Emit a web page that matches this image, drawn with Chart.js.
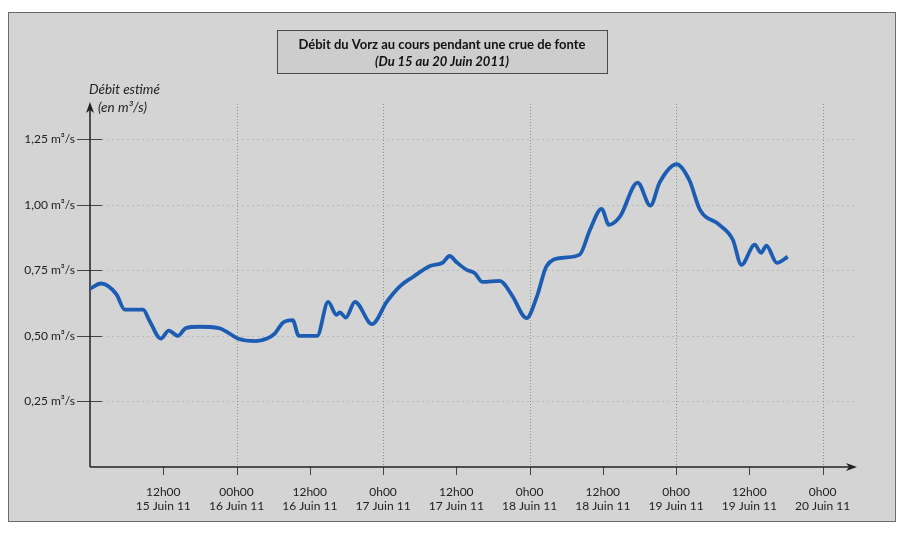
<!DOCTYPE html>
<html>
<head>
<meta charset="utf-8">
<script src="https://cdn.jsdelivr.net/npm/chart.js@4"></script>
<style>
  body { margin: 0; background: #ffffff; }
  #wrap { width: 902px; height: 534px; }
</style>
</head>
<body>
<div id="wrap"><canvas id="debit" width="902" height="534"></canvas></div>
<script>
// hours since 15 Juin 2011 0h00
const hours = [0, 1.8, 4.3, 5.7, 8.7, 9.7, 11.6, 12.9, 14.4, 15.7, 17.8, 21.1, 22.8, 24.2,
  27.2, 29.0, 30.3, 31.6, 33.2, 34.2, 37.2, 39.0, 40.4, 40.9, 41.9, 43.4, 46.2, 48.6,
  50.8, 52.9, 55.7, 57.8, 58.9, 60.1, 61.7, 63.0, 64.3, 67.1, 69.1, 71.5, 73.2, 74.8,
  77.4, 80.2, 81.9, 83.8, 85.0, 86.8, 89.7, 91.8, 93.3, 96.1, 98.2, 99.9, 103.1, 105.3,
  106.7, 108.9, 109.9, 110.8, 112.5, 114.3];
// débit estimé en m3/s
const debit = [0.68, 0.70, 0.66, 0.60, 0.60, 0.56, 0.49, 0.52, 0.50, 0.53, 0.535, 0.53, 0.51, 0.49,
  0.48, 0.49, 0.51, 0.55, 0.56, 0.50, 0.50, 0.63, 0.58, 0.59, 0.57, 0.63, 0.545, 0.63,
  0.69, 0.725, 0.767, 0.78, 0.805, 0.78, 0.752, 0.74, 0.706, 0.71, 0.656, 0.568, 0.65, 0.767,
  0.798, 0.81, 0.905, 0.985, 0.924, 0.955, 1.085, 0.997, 1.085, 1.155, 1.093, 0.982, 0.924, 0.867,
  0.771, 0.848, 0.817, 0.844, 0.779, 0.802];
const yTicks = [0.25, 0.5, 0.75, 1.0, 1.25];
const xTickHours = [12, 24, 36, 48, 60, 72, 84, 96, 108, 120];
const xTickLabels = [
  ['12h00', '15 Juin 11'], ['00h00', '16 Juin 11'], ['12h00', '16 Juin 11'],
  ['0h00', '17 Juin 11'], ['12h00', '17 Juin 11'], ['0h00', '18 Juin 11'],
  ['12h00', '18 Juin 11'], ['0h00', '19 Juin 11'], ['12h00', '19 Juin 11'],
  ['0h00', '20 Juin 11']
];

const FONT = 'Lato';
const INK = '#222222';

function fmtY(v) {
  return v.toFixed(2).replace('.', ',') + ' m³/s';
}

const decor = {
  id: 'decor',
  beforeDraw(chart) {
    const c = chart.ctx;
    c.save();
    c.fillStyle = '#ffffff';
    c.fillRect(0, 0, chart.width, chart.height);
    c.fillStyle = '#d4d4d4';
    c.fillRect(8, 12, 888, 510);
    c.strokeStyle = '#6a6a6a';
    c.lineWidth = 1;
    c.strokeRect(8.5, 12.5, 887, 509);
    c.restore();
  },
  beforeDatasetsDraw(chart) {
    const c = chart.ctx;
    const x = chart.scales.x, y = chart.scales.y;
    const a = chart.chartArea;
    const x0 = x.getPixelForValue(0), y0 = y.getPixelForValue(0);
    c.save();
    // horizontal dotted grid
    c.strokeStyle = '#bababa';
    c.lineWidth = 1;
    c.setLineDash([2, 3]);
    yTicks.forEach(v => {
      const py = Math.round(y.getPixelForValue(v)) + 0.5;
      c.beginPath(); c.moveTo(x0 + 12, py); c.lineTo(a.right + 8, py); c.stroke();
    });
    // vertical dotted grid at 0h00
    c.strokeStyle = '#8c8c8c';
    c.setLineDash([1, 2]);
    xTickHours.filter(h => h % 24 === 0).forEach(h => {
      const px = Math.round(x.getPixelForValue(h)) + 0.5;
      c.beginPath(); c.moveTo(px, a.top + 4); c.lineTo(px, y0); c.stroke();
    });
    c.setLineDash([]);
    // tick marks
    c.strokeStyle = '#444444';
    c.lineWidth = 1;
    yTicks.forEach(v => {
      const py = Math.round(y.getPixelForValue(v)) + 0.5;
      c.beginPath(); c.moveTo(x0 - 13, py); c.lineTo(x0 + 12, py); c.stroke();
    });
    xTickHours.forEach(h => {
      const px = Math.round(x.getPixelForValue(h)) + 0.5;
      c.beginPath(); c.moveTo(px, y0); c.lineTo(px, y0 + 8); c.stroke();
    });
    // axes with arrows
    c.strokeStyle = INK;
    c.fillStyle = INK;
    c.lineWidth = 1.5;
    const xEnd = a.right + 10, yEnd = a.top + 2;
    c.beginPath(); c.moveTo(x0, y0); c.lineTo(xEnd - 4, y0); c.stroke();
    c.beginPath(); c.moveTo(x0, y0); c.lineTo(x0, yEnd + 4); c.stroke();
    c.beginPath();
    c.moveTo(xEnd, y0); c.lineTo(xEnd - 11, y0 - 4); c.lineTo(xEnd - 8, y0); c.lineTo(xEnd - 11, y0 + 4);
    c.closePath(); c.fill();
    c.beginPath();
    c.moveTo(x0, yEnd); c.lineTo(x0 - 4, yEnd + 11); c.lineTo(x0, yEnd + 8); c.lineTo(x0 + 4, yEnd + 11);
    c.closePath(); c.fill();
    c.restore();
  },
  afterDraw(chart) {
    const c = chart.ctx;
    c.save();
    // title box
    c.fillStyle = '#cdcdcd';
    c.fillRect(277, 30, 331, 44);
    c.strokeStyle = '#4a4a4a';
    c.lineWidth = 1;
    c.strokeRect(277.5, 30.5, 330, 43);
    c.fillStyle = '#111111';
    c.textAlign = 'center';
    c.textBaseline = 'middle';
    c.font = 'bold 13px ' + FONT;
    c.fillText('Débit du Vorz au cours pendant une crue de fonte', 442, 45);
    c.font = 'italic bold 13px ' + FONT;
    c.fillText('(Du 15 au 20 Juin 2011)', 442, 62);
    // y axis title
    c.textAlign = 'left';
    c.font = 'italic 13.5px ' + FONT;
    c.fillStyle = INK;
    c.fillText('Débit estimé', 89, 90);
    c.fillText('(en m³/s)', 98, 108);
    c.restore();
  }
};

new Chart(document.getElementById('debit'), {
  type: 'line',
  data: {
    datasets: [{
      data: hours.map((h, i) => ({ x: h, y: debit[i] })),
      borderColor: '#1c5db3',
      borderWidth: 3.8,
      pointRadius: 0,
      cubicInterpolationMode: 'monotone',
      fill: false
    }]
  },
  options: {
    responsive: false,
    animation: false,
    events: [],
    layout: { padding: { top: 100, right: 55, left: 0, bottom: 0 } },
    plugins: { legend: { display: false }, tooltip: { enabled: false } },
    scales: {
      x: {
        type: 'linear',
        min: 0,
        max: 124,
        afterFit: s => { s.height = 67; },
        afterBuildTicks: s => { s.ticks = xTickHours.map(v => ({ value: v })); },
        grid: { display: false, drawTicks: false },
        border: { display: false },
        ticks: {
          autoSkip: false,
          maxRotation: 0,
          padding: 18,
          color: INK,
          font: { family: FONT, size: 12 },
          callback: v => {
            const i = xTickHours.indexOf(v);
            return i < 0 ? '' : xTickLabels[i];
          }
        }
      },
      y: {
        min: 0,
        max: 1.4,
        afterFit: s => { s.width = 90; },
        afterBuildTicks: s => { s.ticks = yTicks.map(v => ({ value: v })); },
        grid: { display: false, drawTicks: false },
        border: { display: false },
        ticks: {
          padding: 15,
          color: INK,
          font: { family: FONT, size: 12 },
          callback: v => fmtY(v)
        }
      }
    }
  },
  plugins: [decor]
});
</script>
</body>
</html>
